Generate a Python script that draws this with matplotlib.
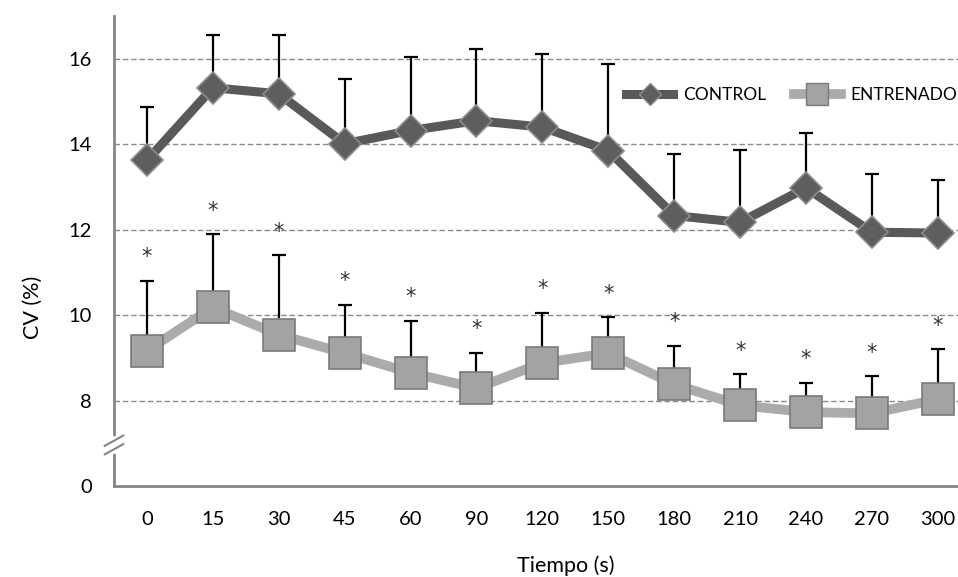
import matplotlib.pyplot as plt
import numpy as np
from matplotlib.lines import Line2D

# Tiempo (s) y CV (%) medios con su desviacion (solo barra superior)
tiempos = ['0', '15', '30', '45', '60', '90', '120', '150', '180', '210', '240', '270', '300']
control = [13.62, 15.32, 15.18, 14.01, 14.32, 14.55, 14.40, 13.85, 12.33, 12.17, 12.98, 11.94, 11.92]
control_sd = [1.25, 1.23, 1.37, 1.52, 1.73, 1.68, 1.70, 2.02, 1.43, 1.70, 1.29, 1.37, 1.25]
entrenado = [9.17, 10.18, 9.54, 9.11, 8.65, 8.29, 8.88, 9.11, 8.38, 7.89, 7.73, 7.70, 8.03]
entrenado_sd = [1.63, 1.71, 1.86, 1.13, 1.22, 0.83, 1.18, 0.84, 0.90, 0.72, 0.69, 0.87, 1.17]
# diferencias significativas marcadas con *
signif = [True] * 13

y_ticks = [6, 8, 10, 12, 14, 16]
y_labels = ['0', '8', '10', '12', '14', '16']

plt.rcParams['font.family'] = ['Lato', 'DejaVu Sans']

fig = plt.figure(figsize=(9.58, 5.77), dpi=100)
ax = fig.add_axes([114 / 958, 1 - 486 / 577, 856.75 / 958, 470 / 577])

x = np.arange(len(tiempos))
dark = '#595959'
light = '#ABABAB'

# barras de error hacia arriba, por debajo de las lineas
ax.errorbar(x, control, yerr=[np.zeros(len(x)), control_sd], fmt='none',
            ecolor='black', elinewidth=1.6, capsize=5, capthick=1.6, zorder=2)
ax.errorbar(x, entrenado, yerr=[np.zeros(len(x)), entrenado_sd], fmt='none',
            ecolor='black', elinewidth=1.6, capsize=5, capthick=1.6, zorder=2)

ax.plot(x, control, color=dark, lw=6.5, marker='D', ms=16,
        mfc='#5E5E5E', mec='#8C8C8C', mew=1.2, zorder=3, label='CONTROL')
ax.plot(x, entrenado, color=light, lw=7, marker='s', ms=23,
        mfc='#A3A3A3', mec='#7A7A7A', mew=1.2, zorder=3, label='ENTRENADO')

for xi, m, s, sig in zip(x, entrenado, entrenado_sd, signif):
    if sig:
        ax.annotate('*', (xi, m + s), xytext=(0, 17), textcoords='offset points',
                    ha='center', va='center', fontsize=15, color='#333333',
                    family='DejaVu Sans')

ax.set_xlim(-0.5, 12.5)
ax.set_ylim(6, 17)
ax.set_xticks(x)
ax.set_xticklabels(tiempos)
ax.set_yticks(y_ticks)
ax.set_yticklabels(y_labels)
ax.tick_params(length=0, labelsize=14.5, pad=16)
ax.tick_params(axis='x', pad=18)

for g in [8, 10, 12, 14, 16]:
    ax.axhline(g, color='#8A8A8A', lw=1, ls=(0, (4, 2)), zorder=1)

for side in ['top', 'right']:
    ax.spines[side].set_visible(False)
for side in ['left', 'bottom']:
    ax.spines[side].set_color('#868686')
    ax.spines[side].set_linewidth(2)

# marca de eje cortado
ax.plot([-0.5, -0.5], [6.82, 7.1], color='white', lw=4, clip_on=False, zorder=4)
for dy in (-0.1, 0.1):
    ax.plot([-0.64, -0.36], [6.84 + dy, 7.08 + dy], color='#868686', lw=1.5,
            clip_on=False, zorder=5)

ax.set_xlabel('Tiempo (s)', fontsize=15.5)
ax.set_ylabel('CV (%)', fontsize=15.5)
ax.xaxis.set_label_coords((566 - 114) / 856.75, -0.147)
ax.yaxis.set_label_coords(-0.083, 0.379)

handles = [
    Line2D([], [], color=dark, lw=6.5, marker='D', ms=11, mfc='#5E5E5E', mec='#8C8C8C'),
    Line2D([], [], color=light, lw=7, marker='s', ms=16, mfc='#A3A3A3', mec='#7A7A7A'),
]
ax.legend(handles, ['CONTROL', 'ENTRENADO'], loc='center left', ncol=2,
          bbox_to_anchor=(0.598, 0.832), frameon=False, fontsize=12.5,
          handlelength=2.7, handletextpad=0.55, columnspacing=1.6,
          borderpad=0, borderaxespad=0)

fig.savefig('out.png', dpi=100)
